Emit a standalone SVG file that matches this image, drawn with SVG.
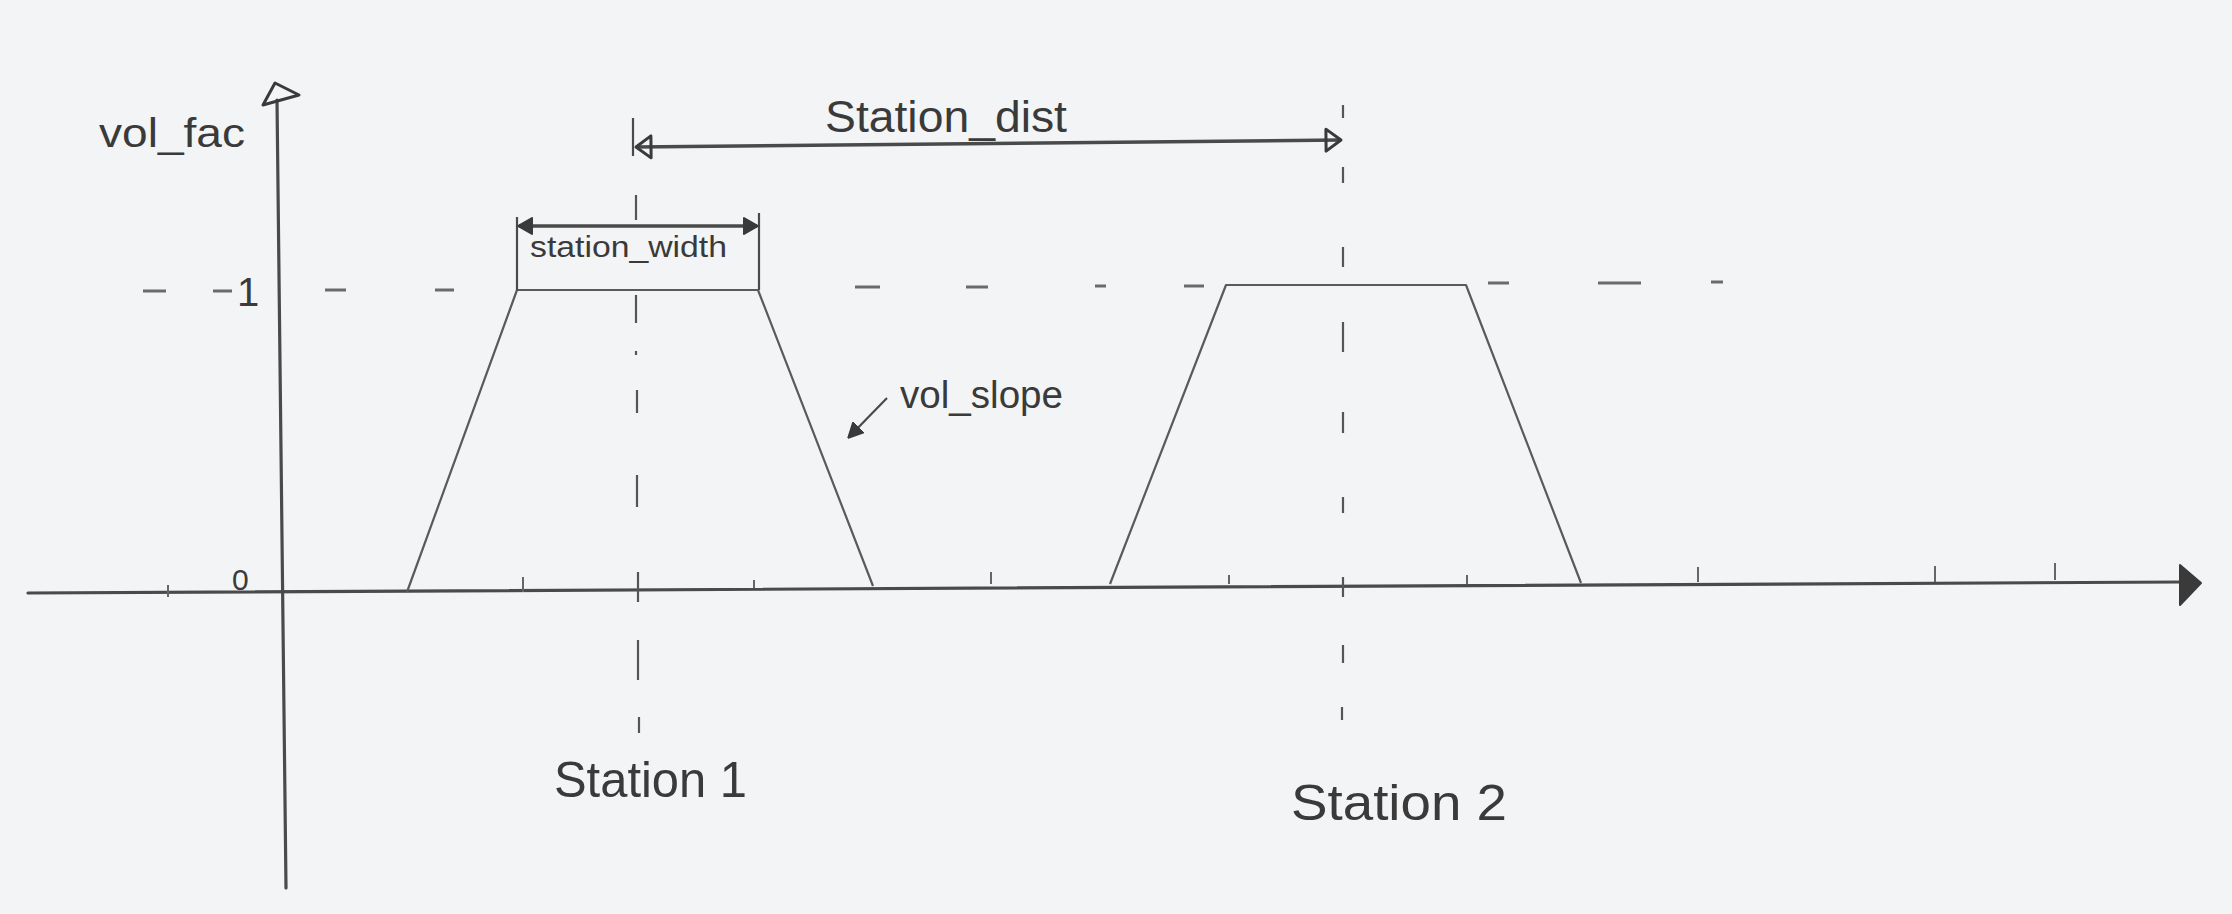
<svg xmlns="http://www.w3.org/2000/svg" width="2232" height="914" viewBox="0 0 2232 914">
  <defs>
    <style>
      .axis { stroke: #4a4a4a; stroke-width: 3.2; fill: none; stroke-linecap: round; }
      .curve { stroke: #5a5a5a; stroke-width: 2.2; fill: none; stroke-linejoin: round; }
      .dash { stroke: #6a6a6a; stroke-width: 3; fill: none; }
      .guide { stroke: #555; stroke-width: 2.2; fill: none; }
      .tick { stroke: #666; stroke-width: 2; fill: none; }
      .dim { stroke: #4a4a4a; stroke-width: 3.5; fill: none; }
      .thin { stroke: #4a4a4a; stroke-width: 2.2; fill: none; }
      .hand { font-family: "Liberation Sans", "DejaVu Sans", sans-serif; fill: #3a3a3a; }
      .headfill { fill: #3a3a3a; stroke: #3a3a3a; stroke-width: 2; stroke-linejoin: round; }
      .headopen { fill: none; stroke: #3a3a3a; stroke-width: 3; stroke-linejoin: round; }
    </style>
    <marker id="fillSmall" markerUnits="userSpaceOnUse" markerWidth="16" markerHeight="18" refX="14" refY="9" orient="auto-start-reverse">
      <path d="M1,1 L15,9 L1,17 z" class="headfill"/>
    </marker>
    <marker id="openHead" markerUnits="userSpaceOnUse" markerWidth="20" markerHeight="28" refX="17" refY="14" orient="auto-start-reverse">
      <path d="M2,3 L17,14 L2,25 z" class="headopen"/>
    </marker>
    <marker id="slopeHead" markerUnits="userSpaceOnUse" markerWidth="16" markerHeight="16" refX="14" refY="8" orient="auto">
      <path d="M1,1 L15,8 L1,15 z" class="headfill"/>
    </marker>
  </defs>

  <rect x="0" y="0" width="2232" height="914" fill="#f3f4f6"/>

  <g id="axes">
    <line class="axis" x1="28" y1="593" x2="2182" y2="582"/>
    <path class="headfill" d="M2180,565 L2201,583 L2180,605 z"/>
    <line class="axis" x1="286" y1="888" x2="277" y2="100"/>
    <path class="headopen" d="M275,83 L263,105 L299,95 z"/>
    <path class="tick" d="M168,585 V597 M523,577 V592 M754,580 V588 M991,572 V584 M1229,575 V584 M1467,575 V584 M1698,567 V582 M1935,566 V582 M2055,563 V580"/>
  </g>

  <g id="level-one-guide">
    <path class="dash" d="M143,291 H166 M213,291 H232 M325,290 H346 M435,290 H454 M855,287 H880 M966,287 H988 M1095,286 H1106 M1184,286 H1204 M1488,283 H1509 M1598,283 H1641 M1711,282 H1723"/>
  </g>

  <g id="station1-line">
    <path class="guide" d="M636,195 V220 M636,295 V323 M636,351 V355 M637,390 V413 M637,475 V507 M638,572 V602 M638,640 V680 M639,717 V733"/>
  </g>

  <g id="station2-line">
    <path class="guide" d="M1343,105 V118 M1343,167 V183 M1343,247 V267 M1343,322 V352 M1343,412 V433 M1343,497 V513 M1343,577 V597 M1343,645 V663 M1342,707 V720"/>
  </g>

  <g id="trapezoid-1">
    <polyline class="curve" points="407,592 517,290 758,290 873,586"/>
  </g>

  <g id="trapezoid-2">
    <polyline class="curve" points="1110,584 1226,285 1466,285 1581,583"/>
  </g>

  <g id="connectors">
    <g id="station-dist-dim">
      <line class="thin" x1="633" y1="118" x2="633" y2="156"/>
      <line class="dim" x1="636" y1="147" x2="1341" y2="140" marker-start="url(#openHead)" marker-end="url(#openHead)"/>
    </g>
    <g id="station-width-dim">
      <line class="thin" x1="517" y1="217" x2="517" y2="290"/>
      <line class="thin" x1="759" y1="213" x2="759" y2="290"/>
      <line class="dim" x1="519" y1="226" x2="757" y2="226" marker-start="url(#fillSmall)" marker-end="url(#fillSmall)"/>
    </g>
    <g id="vol-slope-pointer">
      <line class="thin" x1="887" y1="398" x2="849" y2="437" marker-end="url(#slopeHead)"/>
    </g>
  </g>

  <g id="labels">
    <text class="hand" x="99" y="147" font-size="40" textLength="146" lengthAdjust="spacingAndGlyphs">vol_fac</text>
    <text class="hand" x="237" y="306" font-size="40">1</text>
    <text class="hand" x="232" y="590" font-size="30">0</text>
    <text class="hand" x="825" y="132" font-size="44" textLength="242" lengthAdjust="spacingAndGlyphs">Station_dist</text>
    <text class="hand" x="530" y="257" font-size="30" textLength="197" lengthAdjust="spacingAndGlyphs">station_width</text>
    <text class="hand" x="900" y="408" font-size="38" textLength="163" lengthAdjust="spacingAndGlyphs">vol_slope</text>
    <text class="hand" x="554" y="797" font-size="50" textLength="193" lengthAdjust="spacingAndGlyphs">Station 1</text>
    <text class="hand" x="1291" y="820" font-size="50" textLength="216" lengthAdjust="spacingAndGlyphs">Station 2</text>
  </g>
</svg>
